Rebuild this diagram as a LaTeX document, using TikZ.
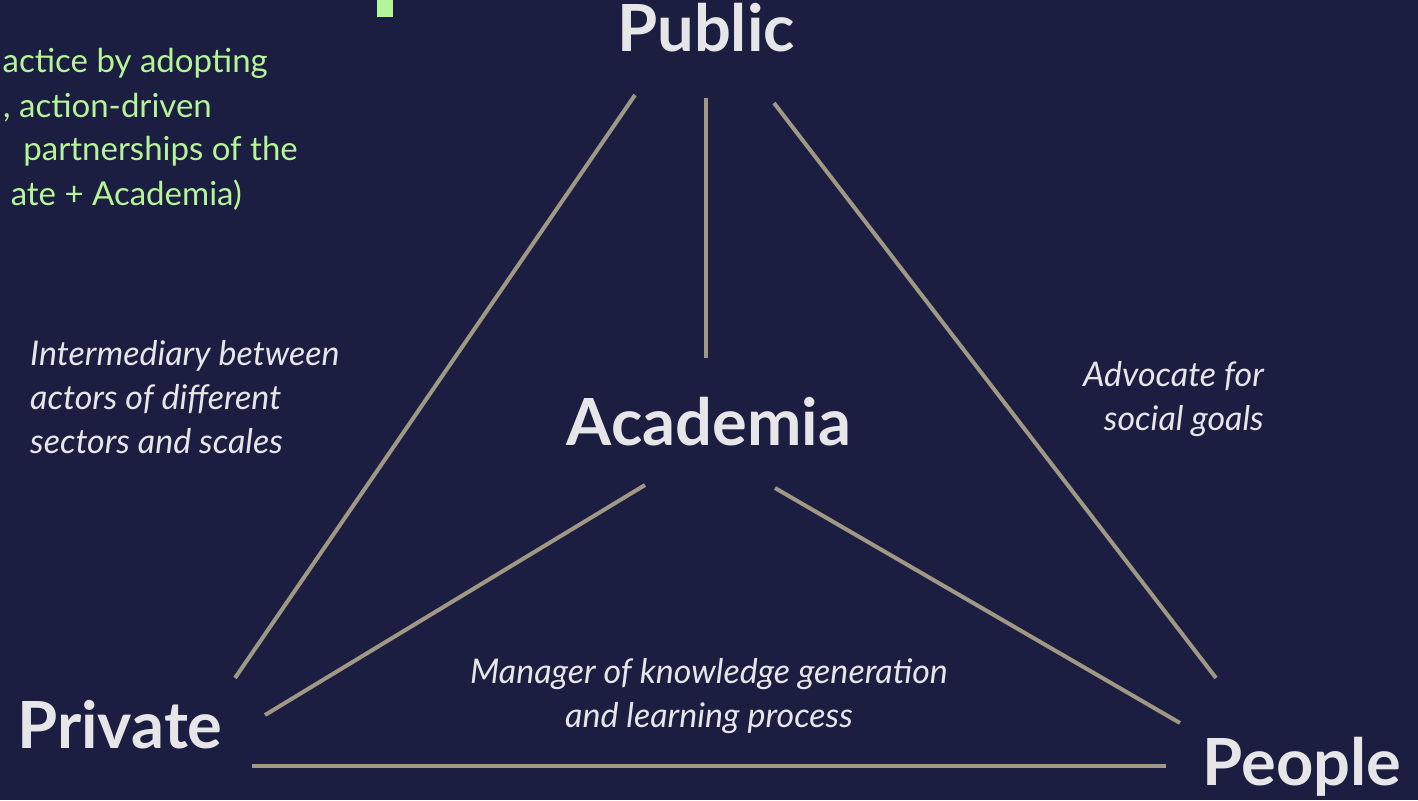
\documentclass[tikz,border=0pt]{standalone}
\usepackage{fontspec}
\setmainfont{Lato}
\definecolor{bgnavy}{RGB}{27,30,64}
\definecolor{linegray}{RGB}{160,151,132}
\definecolor{txtgray}{RGB}{230,230,232}
\definecolor{lgreen}{RGB}{181,245,152}
\tikzset{
  conn/.style={draw=linegray, line width=4pt},
  actor/.style={text=txtgray, font=\fontsize{65}{65}\selectfont\bfseries, inner sep=0pt, anchor=base},
  role/.style={text=txtgray, font=\fontsize{34}{44}\selectfont\itshape, inner sep=0pt},
  greentxt/.style={text=lgreen, font=\fontsize{33}{44}\selectfont, inner sep=0pt, anchor=base east},
}
\begin{document}
\begin{tikzpicture}[x=1pt,y=-1pt]
\fill[bgnavy] (0,0) rectangle (1418,800);
\useasboundingbox (0,0) rectangle (1418,800);
% green fragment of title
\fill[lgreen] (377,0) rectangle (393,17);
\node[greentxt] (g1) at (268,72) {actice by adopting};
\node[greentxt] (g2) at (212,117) {, action-driven};
\node[greentxt] (g3) at (298,160) {partnerships of the};
\node[greentxt] (g4) at (242,205) {ate + Academia)};
% actors
\node[actor] (pub) at (706,52) {Public};
\node[actor] (aca) at (709,445) {Academia};
\node[actor] (pri) at (120,748) {Private};
\node[actor] (peo) at (1302,785) {People};
% connector endpoints
\coordinate (p1) at (635,95);   \coordinate (q1) at (235,678);
\coordinate (p2) at (706,98);   \coordinate (q2) at (706,358);
\coordinate (p3) at (774,103);  \coordinate (q3) at (1216,678);
\coordinate (p4) at (645,485);  \coordinate (q4) at (265,715);
\coordinate (p5) at (775,488);  \coordinate (q5) at (1180,723);
\coordinate (p6) at (252,766);  \coordinate (q6) at (1166,766);
\draw[conn] (p1) -- (q1);
\draw[conn] (p2) -- (q2);
\draw[conn] (p3) -- (q3);
\draw[conn] (p4) -- (q4);
\draw[conn] (p5) -- (q5);
\draw[conn] (p6) -- (q6);
% roles (base anchor = baseline of last line)
\node[role, align=left, anchor=base west] (r1) at (30,453) {Intermediary between\\actors of different\\sectors and scales};
\node[role, align=right, anchor=base east] (r2) at (1264,430) {Advocate for\\social goals};
\node[role, align=center, anchor=base] (r3) at (709,727) {Manager of knowledge generation\\and learning process};
\end{tikzpicture}
\end{document}
